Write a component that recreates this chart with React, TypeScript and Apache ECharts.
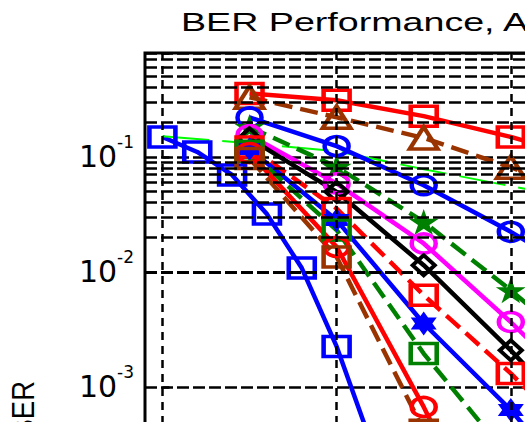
import React, { useEffect, useRef } from "react";
import * as echarts from "echarts";

// x positions (dB)
const xFine = [0, 1, 2, 3, 4, 5, 6];
const xHalf = [2.5, 5, 7.5, 10, 12.5];
const xCurve = [0, 2.5, 5, 7.5, 10, 12.5];
const xGridTicks = [0, 5, 10, 15];

// BER values
const blueSquares = [0.149, 0.1103, 0.0697, 0.0318, 0.0108, 0.00225, 0.00032];
const greenCurve = [0.151, 0.1315, 0.112, 0.0782, 0.0556, 0.04];
const redSquares = [0.356, 0.311, 0.226, 0.149, 0.09];
const brownTriangles = [0.33, 0.221, 0.146, 0.0813, 0.041];
const blueCircles = [0.22, 0.124, 0.0567, 0.0223, 0.0079];
const greenStars = [0.182, 0.0818, 0.0272, 0.00693, 0.00155];
const magentaCircles = [0.1545, 0.0588, 0.01767, 0.00367, 0.00065];
const blackDiamonds = [0.145, 0.0497, 0.01143, 0.00208, 0.00033];
const redDashSquares = [0.122, 0.0356, 0.00627, 0.00131, 0.00023];
const blueHexagrams = [0.117, 0.0282, 0.00356, 0.00063, 0.000079];
const greenDashSquares = [0.112, 0.0231, 0.00195, 0.000234, 0.000015];
const redCircles = [0.108, 0.0165, 0.00067, 0.00002];
const brownDashSquares = [0.097, 0.0135, 0.00042, 0.00001];

const TITLE = "BER Performance, A";
const YLABEL = "BER";

const FONT = '"Liberation Sans", Arial, Helvetica, sans-serif';
const TICKFONT = '"DejaVu Sans", "Liberation Sans", sans-serif';
const BLUE = "#0000ff";
const RED = "#ff0000";
const BROWN = "#993300";
const DGREEN = "#008000";
const LIME = "#00ff00";
const MAGENTA = "#ff00ff";
const BLACK = "#000000";

const PENTAGRAM =
  "path://M50 0 L61.23 34.55 L97.55 34.55 L68.17 55.9 L79.39 90.45 L50 69.1 L20.61 90.45 L31.83 55.9 L2.45 34.55 L38.77 34.55 Z";
const HEXAGRAM =
  "path://M50 0 L64.43 25 L93.3 25 L78.87 50 L93.3 75 L64.43 75 L50 100 L35.57 75 L6.7 75 L21.13 50 L6.7 25 L35.57 25 Z";

function mk(
  xs: number[],
  ys: number[],
  color: string,
  symbol: string,
  size: number[],
  dashed: boolean,
  filled: boolean
) {
  return {
    type: "line",
    data: ys.map((y, i) => [xs[i], y]),
    symbol,
    symbolSize: size,
    showAllSymbol: true,
    lineStyle: { color, width: 4.5, type: dashed ? [18, 8] : "solid" },
    itemStyle: {
      color: filled ? color : "rgba(0,0,0,0)",
      borderColor: color,
      borderWidth: filled ? 0 : 4,
    },
    emphasis: { disabled: true },
    silent: true,
    z: 3,
  };
}

export default function App() {
  const ref = useRef<HTMLDivElement>(null);
  useEffect(() => {
    document.body.style.margin = "0";
    document.body.style.overflow = "hidden";
    document.documentElement.style.overflow = "hidden";
    if (!ref.current) return;
    const chart = echarts.init(ref.current, null, { renderer: "svg" });

    const minorGrid: number[] = [];
    for (let k = -6; k <= -1; k++) {
      for (let m = 2; m <= 9; m++) {
        const v = m * Math.pow(10, k);
        if (v < 0.79) minorGrid.push(v);
      }
    }

    const gridStyleH = { color: BLACK, width: 2.5, type: [12, 4] };
    const gridStyleV = { color: BLACK, width: 2.5, type: [8, 6] };

    const option: any = {
      animation: false,
      backgroundColor: "#ffffff",
      grid: {
        left: 145,
        top: 53,
        width: 540,
        height: 679,
        show: true,
        borderColor: BLACK,
        borderWidth: 3,
        backgroundColor: "rgba(0,0,0,0)",
        containLabel: false,
        outerBoundsMode: "none",
      },
      xAxis: {
        type: "value",
        min: -0.5,
        max: 15,
        axisLabel: { show: false },
        axisTick: { show: false },
        axisLine: { show: false },
        splitLine: { show: false },
      },
      yAxis: {
        type: "log",
        logBase: 10,
        min: 1e-6,
        max: 0.8,
        axisLine: { show: false },
        axisTick: {
          show: true,
          inside: true,
          length: 7,
          lineStyle: { color: BLACK, width: 2.5 },
        },
        splitLine: { show: true, lineStyle: gridStyleH },
        axisLabel: {
          show: true,
          margin: 11,
          color: BLACK,
          formatter: (v: number) => {
            const l = Math.log10(v);
            const e = Math.round(l);
            if (Math.abs(l - e) > 1e-6) return "";
            return "{b|10}{e|" + e + "}";
          },
          rich: {
            b: {
              fontSize: 30,
              fontFamily: TICKFONT,
              color: BLACK,
              lineHeight: 46,
              verticalAlign: "middle",
            },
            e: {
              fontSize: 17,
              fontFamily: TICKFONT,
              color: BLACK,
              lineHeight: 18,
              verticalAlign: "top",
            },
          },
        },
      },
      graphic: [
        {
          type: "text",
          x: 181,
          y: 22,
          scaleX: 1.42,
          silent: true,
          style: {
            text: TITLE,
            fontSize: 26.5,
            fontFamily: FONT,
            fill: BLACK,
            align: "left",
            verticalAlign: "middle",
            textAlign: "left",
            textVerticalAlign: "middle",
          },
        },
        {
          type: "text",
          x: 23,
          y: 381,
          rotation: Math.PI / 2,
          scaleX: 1.1,
          scaleY: 1.25,
          silent: true,
          style: {
            text: YLABEL,
            fontSize: 25,
            fontFamily: FONT,
            fill: BLACK,
            align: "right",
            verticalAlign: "middle",
            textAlign: "right",
            textVerticalAlign: "middle",
          },
        },
      ],
      series: [
        {
          type: "line",
          data: [[-0.5, 0.8]],
          symbol: "none",
          lineStyle: { width: 0 },
          silent: true,
          z: 1,
          markLine: {
            silent: true,
            symbol: ["none", "none"],
            label: { show: false },
            lineStyle: gridStyleH,
            data: minorGrid.map((v) => ({ yAxis: v })),
          },
        },
        {
          type: "line",
          data: [[-0.5, 0.8]],
          symbol: "none",
          lineStyle: { width: 0 },
          silent: true,
          z: 1,
          markLine: {
            silent: true,
            symbol: ["none", "none"],
            label: { show: false },
            lineStyle: gridStyleV,
            data: xGridTicks.map((v) => ({ xAxis: v })),
          },
        },
        mk(xFine, blueSquares, BLUE, "rect", [26, 20], false, false),
        {
          type: "line",
          data: greenCurve.map((y, i) => [xCurve[i], y]),
          symbol: "none",
          lineStyle: { color: LIME, width: 2, type: [47, 13] },
          silent: true,
          z: 3,
        },
        mk(xHalf, redSquares, RED, "rect", [26, 20], false, false),
        mk(xHalf, brownTriangles, BROWN, "triangle", [28, 22], true, false),
        mk(xHalf, blueCircles, BLUE, "circle", [24, 19], false, false),
        mk(xHalf, greenStars, DGREEN, PENTAGRAM, [30, 26], true, true),
        mk(xHalf, magentaCircles, MAGENTA, "circle", [24, 19], false, false),
        mk(xHalf, blackDiamonds, BLACK, "diamond", [22, 20], false, false),
        mk(xHalf, redDashSquares, RED, "rect", [26, 20], true, false),
        mk(xHalf, blueHexagrams, BLUE, HEXAGRAM, [26, 24], false, true),
        mk(xHalf, greenDashSquares, DGREEN, "rect", [26, 20], true, false),
        mk(xHalf, redCircles, RED, "circle", [24, 19], false, false),
        mk(xHalf, brownDashSquares, BROWN, "rect", [26, 20], true, false),
      ],
    };
    chart.setOption(option);
    return () => chart.dispose();
  }, []);
  return (
    <div
      ref={ref}
      style={{ width: 760, height: 780, position: "absolute", left: 0, top: 0 }}
    />
  );
}
